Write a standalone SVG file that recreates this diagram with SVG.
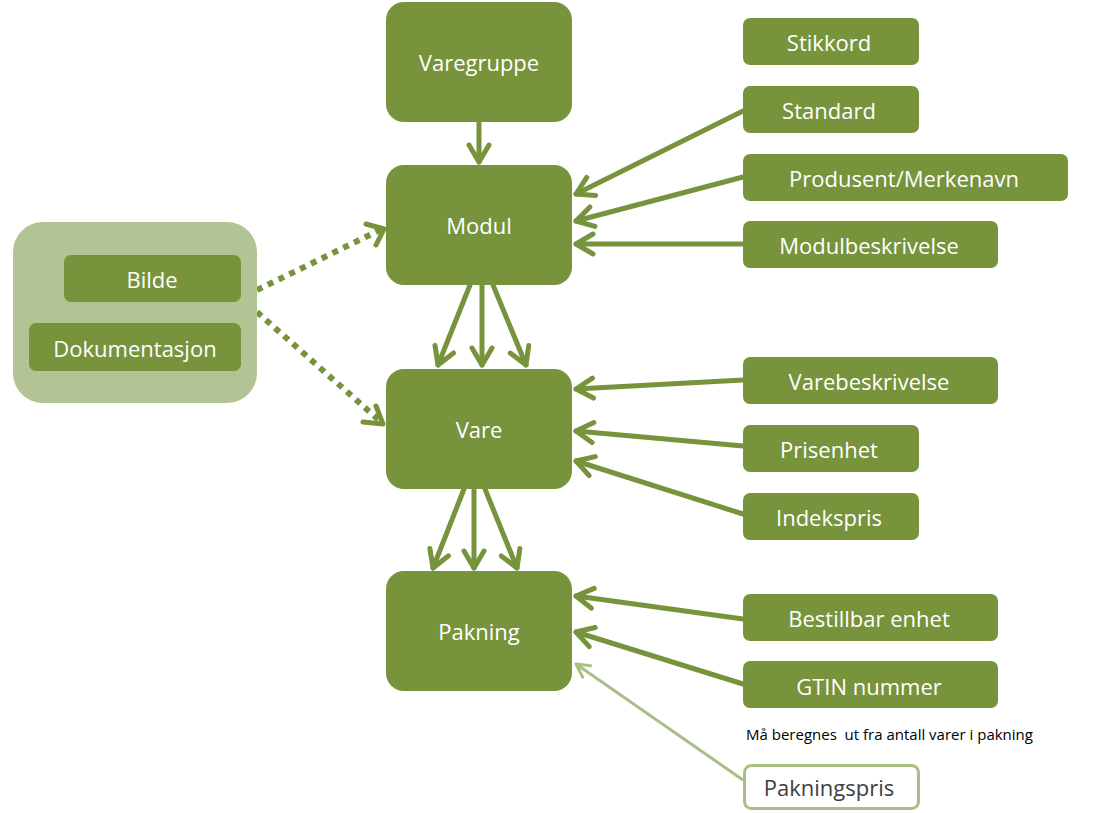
<svg xmlns="http://www.w3.org/2000/svg" width="1103" height="813" viewBox="0 0 1103 813">
<style>
.n{fill:#77933c}
.t{font-family:"Open Sans","Noto Sans",sans-serif;font-size:22px;fill:#fff;text-anchor:middle;dominant-baseline:central}
.c{fill:none;stroke:#77933c;stroke-width:5;stroke-linecap:round}
.d{fill:none;stroke:#77933c;stroke-width:6;stroke-dasharray:6 6}
</style>
<defs>
<marker id="a" markerUnits="userSpaceOnUse" markerWidth="40" markerHeight="40" refX="0" refY="0" viewBox="-25 -20 40 40" orient="auto" overflow="visible">
<path d="M-17,-10 L0,0 L-17,10" fill="none" stroke="#77933c" stroke-width="5" stroke-linecap="round" stroke-linejoin="round"/>
</marker>
<marker id="al" markerUnits="userSpaceOnUse" markerWidth="40" markerHeight="40" refX="0" refY="0" viewBox="-25 -20 40 40" orient="auto" overflow="visible">
<path d="M-13,-7 L0,0 L-13,7" fill="none" stroke="#a9bf85" stroke-width="3" stroke-linecap="round" stroke-linejoin="round"/>
</marker>
</defs>
<rect width="1103" height="813" fill="#fff"/>
<g id="connectors">
<line class="c" x1="479" y1="122" x2="479" y2="162" marker-end="url(#a)"/>
<line class="c" x1="743" y1="111" x2="576" y2="194" marker-end="url(#a)"/>
<line class="c" x1="743" y1="177" x2="576" y2="221" marker-end="url(#a)"/>
<line class="c" x1="743" y1="244" x2="576" y2="244" marker-end="url(#a)"/>
<line class="c" x1="470" y1="285" x2="438" y2="365" marker-end="url(#a)"/>
<line class="c" x1="482" y1="285" x2="482" y2="365" marker-end="url(#a)"/>
<line class="c" x1="493" y1="285" x2="526" y2="365" marker-end="url(#a)"/>
<line class="c" x1="743" y1="380" x2="576" y2="389" marker-end="url(#a)"/>
<line class="c" x1="743" y1="446" x2="576" y2="431" marker-end="url(#a)"/>
<line class="c" x1="743" y1="514" x2="576" y2="461" marker-end="url(#a)"/>
<line class="c" x1="464" y1="489" x2="433" y2="568" marker-end="url(#a)"/>
<line class="c" x1="474" y1="489" x2="474" y2="568" marker-end="url(#a)"/>
<line class="c" x1="485" y1="489" x2="517" y2="568" marker-end="url(#a)"/>
<line class="c" x1="743" y1="619" x2="576" y2="596" marker-end="url(#a)"/>
<line class="c" x1="743" y1="684" x2="576" y2="632" marker-end="url(#a)"/>
<line x1="743" y1="780" x2="576" y2="664" fill="none" stroke="#a9bf85" stroke-width="3" marker-end="url(#al)"/>
<line class="d" x1="257" y1="290" x2="380" y2="230"/>
<path d="M366,224 L384,229 L376,245" fill="none" stroke="#77933c" stroke-width="5" stroke-linecap="round" stroke-linejoin="round"/>
<line class="d" x1="257" y1="312" x2="380" y2="421"/>
<path d="M376,406 L383,424 L363,422" fill="none" stroke="#77933c" stroke-width="5" stroke-linecap="round" stroke-linejoin="round"/>
</g>
<g id="grp"><rect x="13" y="222" width="244" height="181" rx="30" fill="#b3c494"/></g>
<g id="bilde"><rect class="n" x="64" y="255" width="177" height="47" rx="7"/><text class="t" x="152" y="279">Bilde</text></g>
<g id="dok"><rect class="n" x="29" y="323" width="212" height="48" rx="7"/><text class="t" x="135" y="348">Dokumentasjon</text></g>
<g id="varegruppe"><rect class="n" x="386" y="2" width="186" height="120" rx="18"/><text class="t" x="479" y="62">Varegruppe</text></g>
<g id="modul"><rect class="n" x="386" y="165" width="186" height="120" rx="18"/><text class="t" x="479" y="225">Modul</text></g>
<g id="vare"><rect class="n" x="386" y="369" width="186" height="120" rx="18"/><text class="t" x="479" y="429">Vare</text></g>
<g id="pakning"><rect class="n" x="386" y="571" width="186" height="120" rx="18"/><text class="t" x="479" y="631">Pakning</text></g>
<g id="stikkord"><rect class="n" x="743" y="18" width="176" height="47" rx="7"/><text class="t" x="829" y="42">Stikkord</text></g>
<g id="standard"><rect class="n" x="743" y="86" width="176" height="47" rx="7"/><text class="t" x="829" y="110">Standard</text></g>
<g id="produsent"><rect class="n" x="743" y="154" width="325" height="47" rx="7"/><text class="t" x="904" y="178">Produsent/Merkenavn</text></g>
<g id="modulbeskrivelse"><rect class="n" x="743" y="221" width="255" height="47" rx="7"/><text class="t" x="869" y="245">Modulbeskrivelse</text></g>
<g id="varebeskrivelse"><rect class="n" x="743" y="357" width="255" height="47" rx="7"/><text class="t" x="869" y="381">Varebeskrivelse</text></g>
<g id="prisenhet"><rect class="n" x="743" y="425" width="176" height="47" rx="7"/><text class="t" x="829" y="449">Prisenhet</text></g>
<g id="indekspris"><rect class="n" x="743" y="493" width="176" height="47" rx="7"/><text class="t" x="829" y="517">Indekspris</text></g>
<g id="bestillbar"><rect class="n" x="743" y="594" width="255" height="47" rx="7"/><text class="t" x="869" y="618">Bestillbar enhet</text></g>
<g id="gtin"><rect class="n" x="743" y="661" width="255" height="47" rx="7"/><text class="t" x="869" y="686">GTIN nummer</text></g>
<g id="note"><text x="746" y="734" font-family="'Open Sans','Noto Sans',sans-serif" font-size="15" fill="#000" dominant-baseline="central" style="white-space:pre">Må beregnes  ut fra antall varer i pakning</text></g>
<g id="pakningspris"><rect x="744.5" y="765.5" width="174" height="43" rx="7" fill="#fff" stroke="#a9bf85" stroke-width="3"/><text class="t" x="829" y="787" style="fill:#404040">Pakningspris</text></g>
</svg>
